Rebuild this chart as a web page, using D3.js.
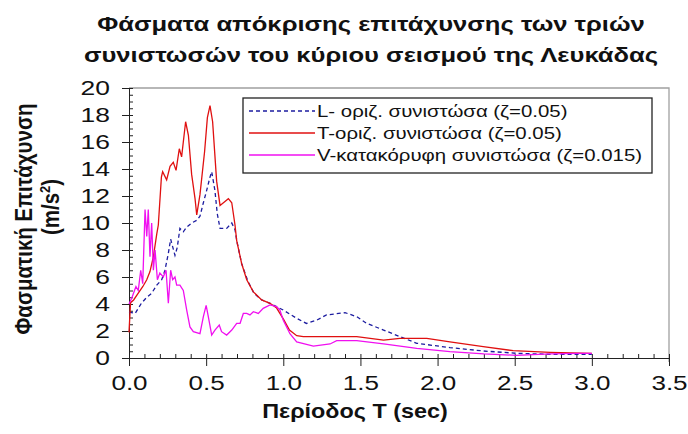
<!DOCTYPE html>
<html lang="el">
<head>
<meta charset="UTF-8">
<title>Φάσματα απόκρισης</title>
<script src="https://d3js.org/d3.v7.min.js"></script>
<style>
    body { margin: 0; background: #fff; }
    svg text { font-family: "Liberation Sans", Arial, sans-serif; fill: #111; }
    .tl { font-size: 21px; }
</style>
</head>
<body>
<div id="chart"></div>
<script>
// [περίοδος T (sec), φασματική επιτάχυνση (m/s2)]
const seriesL = [[0,3.4],[0.04,3.3],[0.08,4.05],[0.115,4.5],[0.147,4.8],[0.18,5.4],[0.212,5.8],[0.233,6.5],
    [0.255,7.75],[0.27,8.8],[0.298,7.6],[0.313,8.2],[0.33,9.6],[0.352,9.35],[0.374,9.7],[0.406,10.0],
    [0.439,10.2],[0.46,10.5],[0.482,11.5],[0.503,12.4],[0.525,13.4],[0.536,13.8],[0.557,12.4],[0.572,10.7],
    [0.59,9.6],[0.633,9.6],[0.666,10.0],[0.687,9.5],[0.70,8.6],[0.73,7.0],[0.77,5.7],[0.81,4.8],[0.86,4.3],
    [0.914,4.05],[1.0,3.55],[1.087,2.94],[1.15,2.56],[1.216,2.8],[1.28,3.19],[1.40,3.36],[1.476,3.06],
    [1.54,2.57],[1.65,2.07],[1.756,1.58],[1.865,1.09],[2.08,0.77],[2.296,0.52],[2.51,0.35],[2.73,0.27],[3.0,0.27]]
const seriesT = [[0,1.9],[0.01,4.1],[0.03,4.3],[0.06,4.8],[0.09,5.3],[0.115,5.8],[0.136,6.4],[0.158,7.5],
    [0.18,9.2],[0.19,9.85],[0.21,13.4],[0.218,13.8],[0.244,13.2],[0.266,14.2],[0.287,14.5],[0.305,13.9],
    [0.326,15.5],[0.341,14.9],[0.352,16.0],[0.367,17.5],[0.385,16.5],[0.406,13.6],[0.428,11.8],[0.439,10.6],
    [0.46,12.1],[0.49,15.3],[0.508,17.8],[0.525,18.7],[0.542,17.5],[0.568,13.1],[0.59,11.3],[0.622,11.6],
    [0.644,11.8],[0.666,11.5],[0.687,9.85],[0.698,8.7],[0.73,7.0],[0.763,5.8],[0.806,4.9],[0.86,4.3],
    [0.914,4.05],[0.957,3.7],[1.0,2.9],[1.04,2.07],[1.087,1.65],[1.13,1.58],[1.238,1.58],[1.346,1.58],
    [1.476,1.58],[1.65,1.33],[1.756,1.45],[1.93,1.45],[2.08,1.2],[2.296,0.84],[2.49,0.54],[2.73,0.42],[3.0,0.35]]
const seriesV = [[0,4.0],[0.02,4.5],[0.045,5.3],[0.06,5.0],[0.076,6.5],[0.089,5.5],[0.104,11.0],[0.115,9.0],
    [0.125,11.0],[0.136,7.5],[0.147,10.0],[0.158,6.5],[0.169,8.0],[0.184,5.8],[0.2,6.3],[0.222,6.0],[0.24,6.5],
    [0.255,4.05],[0.27,6.5],[0.283,5.8],[0.298,6.0],[0.309,5.4],[0.33,5.4],[0.352,5.0],[0.374,3.55],[0.395,2.3],
    [0.417,1.95],[0.46,1.8],[0.482,3.06],[0.5,3.9],[0.514,3.06],[0.536,1.7],[0.557,2.07],[0.585,2.44],[0.60,1.95],
    [0.633,1.7],[0.666,2.07],[0.698,2.57],[0.72,2.57],[0.741,3.3],[0.763,3.3],[0.784,3.19],[0.806,3.43],
    [0.838,3.3],[0.87,3.68],[0.914,3.93],[0.957,3.8],[0.978,3.55],[1.0,2.8],[1.043,1.8],[1.087,1.2],[1.195,0.88],
    [1.303,1.04],[1.346,1.28],[1.476,1.28],[1.65,1.04],[1.865,0.72],[2.08,0.47],[2.30,0.3],[2.51,0.2],
    [2.73,0.3],[2.92,0.35],[3.0,0.35]]

const legendNames = ['L- οριζ. συνιστώσα (ζ=0.05)', 'T-οριζ. συνιστώσα (ζ=0.05)', 'V-κατακόρυφη συνιστώσα (ζ=0.015)']
const colors = ['#1c1ca0', '#e01010', '#f010f0']
const xTicks = [0, 0.5, 1, 1.5, 2, 2.5, 3, 3.5]
const yTicks = [0, 2, 4, 6, 8, 10, 12, 14, 16, 18, 20]
const titleLines = ['Φάσματα απόκρισης επιτάχυνσης των τριών', 'συνιστωσών του κύριου σεισμού της Λευκάδας']

const W = 688, H = 434
const mLeft = 129, mRight = 669, mTop = 88, mBottom = 358

var svg = d3.select('#chart').append('svg').attr('width', W).attr('height', H)

const x = d3.scaleLinear().domain([0, 3.5]).range([mLeft, mRight])
const y = d3.scaleLinear().domain([0, 20]).range([mBottom, mTop])

// the original picture is stretched sideways, so the text gets a horizontal scale
function stretch(sel, s) {
    sel.each(function () {
        const t = d3.select(this)
        const x0 = +t.attr('x') || 0
        t.attr('x', 0).attr('transform', `translate(${x0},0) scale(${s},1)`)
    })
}

// τίτλος
svg.selectAll('.title').data(titleLines).enter().append('text')
    .attr('class', 'title')
    .attr('x', 371).attr('y', (d, i) => 31 + i * 31)
    .attr('text-anchor', 'middle')
    .style('font-size', '21px').style('font-weight', 'bold')
    .text(d => d)
    .call(stretch, 1.22)

// πλαίσιο
svg.append('path')
    .attr('d', `M${mLeft},${mTop}H${mRight}V${mBottom + 4}`)
    .attr('fill', 'none').attr('stroke', '#a0a0a0').attr('stroke-width', 1.3)

// άξονας y
svg.append('g').attr('transform', `translate(${mLeft},0)`)
    .call(d3.axisLeft(y).tickValues(yTicks).tickSize(7).tickPadding(12).tickFormat(d3.format('d')))
    .call(g => g.selectAll('text').attr('class', 'tl').style('font-size', null).call(stretch, 1.26))
    .call(g => g.selectAll('line, path').attr('stroke', '#222'))
svg.append('g').attr('transform', `translate(${mLeft},0)`)
    .call(d3.axisRight(y).tickValues(d3.range(0, 20.01, 0.5)).tickSize(4).tickFormat(''))
    .call(g => g.select('.domain').remove())
    .call(g => g.selectAll('line').attr('stroke', '#222'))

// άξονας x
svg.append('g').attr('transform', `translate(0,${mBottom})`)
    .call(d3.axisBottom(x).tickValues(xTicks).tickSize(8).tickPadding(9).tickFormat(d3.format('.1f')))
    .call(g => g.selectAll('text').attr('class', 'tl').style('font-size', null).call(stretch, 1.24))
    .call(g => g.selectAll('line, path').attr('stroke', '#222'))
svg.append('g').attr('transform', `translate(0,${mBottom})`)
    .call(d3.axisTop(x).tickValues(d3.range(0, 3.51, 0.1)).tickSize(4).tickFormat(''))
    .call(g => g.select('.domain').remove())
    .call(g => g.selectAll('line').attr('stroke', '#222'))

// τίτλοι αξόνων
svg.append('text')
    .attr('x', 355).attr('y', 418)
    .attr('text-anchor', 'middle')
    .style('font-size', '20px').style('font-weight', 'bold')
    .text('Περίοδος T (sec)')
    .call(stretch, 1.17)

svg.append('text')
    .attr('transform', 'translate(32,219) rotate(-90) scale(1,1.15)')
    .attr('text-anchor', 'middle')
    .style('font-size', '20.5px').style('font-weight', 'bold')
    .text('Φασματική Επιτάχυνση')

const unit = svg.append('text')
    .attr('transform', 'translate(59,207) rotate(-90) scale(1,1.15)')
    .attr('text-anchor', 'middle')
    .style('font-size', '20.5px').style('font-weight', 'bold')
unit.append('tspan').text('(m/s')
unit.append('tspan').attr('dy', -8).style('font-size', '13px').text('2')
unit.append('tspan').attr('dy', 8).text(')')

// καμπύλες
const line = d3.line().x(d => x(d[0])).y(d => y(d[1]))
const allSeries = [seriesL, seriesT, seriesV]

svg.selectAll('.curve').data(allSeries).enter().append('path')
    .attr('class', 'curve')
    .attr('d', d => line(d))
    .attr('fill', 'none')
    .attr('stroke', (d, i) => colors[i])
    .attr('stroke-width', 1.3)
    .attr('stroke-dasharray', (d, i) => i == 0 ? '4,3' : null)

// υπόμνημα
const lg = svg.append('g')
lg.append('rect')
    .attr('x', 243).attr('y', 98).attr('width', 409).attr('height', 75)
    .attr('fill', '#fff').attr('stroke', '#222').attr('stroke-width', 1.3)

const rows = lg.selectAll('.row').data(legendNames).enter().append('g')
    .attr('class', 'row')
    .attr('transform', (d, i) => `translate(0,${111 + i * 22})`)
rows.append('line')
    .attr('x1', 249).attr('x2', 315)
    .attr('stroke', (d, i) => colors[i])
    .attr('stroke-width', 1.3)
    .attr('stroke-dasharray', (d, i) => i == 0 ? '4,3' : null)
rows.append('text')
    .attr('x', 317).attr('dy', '0.35em')
    .style('font-size', '17px')
    .text(d => d)
    .call(stretch, 1.2)
</script>
</body>
</html>
